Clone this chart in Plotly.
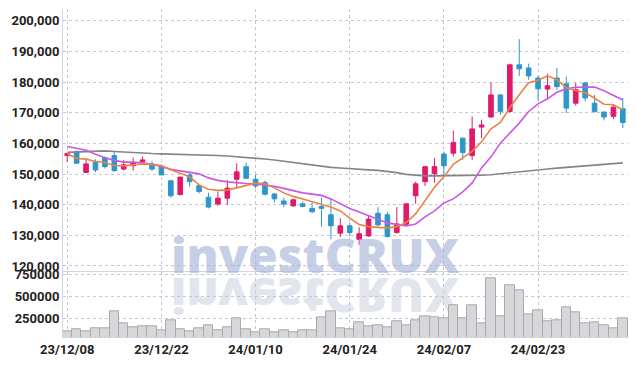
import base64
import plotly.graph_objects as go

dates = ["23/12/08","23/12/11","23/12/12","23/12/13","23/12/14","23/12/15","23/12/18","23/12/19","23/12/20","23/12/21",
         "23/12/22","23/12/26","23/12/27","23/12/28","24/01/02","24/01/03","24/01/04","24/01/05","24/01/08","24/01/09",
         "24/01/10","24/01/11","24/01/12","24/01/15","24/01/16","24/01/17","24/01/18","24/01/19","24/01/22","24/01/23",
         "24/01/24","24/01/25","24/01/26","24/01/29","24/01/30","24/01/31","24/02/01","24/02/02","24/02/05","24/02/06",
         "24/02/07","24/02/08","24/02/13","24/02/14","24/02/15","24/02/16","24/02/19","24/02/20","24/02/21","24/02/22",
         "24/02/23","24/02/26","24/02/27","24/02/28","24/02/29","24/03/04","24/03/05","24/03/06","24/03/07","24/03/08"]

open_ = [156000,157300,150500,154100,155300,156000,151600,152700,154000,153300,
         152300,147800,143300,149700,146200,142400,140200,142100,148300,152400,
         148300,147200,143500,141200,139600,140300,138800,139400,136700,130700,
         133100,128700,129800,137200,136700,130900,133600,142900,147500,150100,
         156500,156800,161700,156000,165300,168600,175800,170400,185600,184600,
         181300,177700,181300,179400,173100,179700,173100,170200,168800,171300]
high = [156800,157700,154900,154800,155700,157200,154600,155300,155700,154200,
        153000,148100,149000,150300,146500,143900,144300,148100,153500,153700,
        149700,147900,143700,142300,141900,141000,140700,142300,142100,135600,
        134000,132600,136300,139200,137700,139200,140300,147500,152700,155200,
        157300,164200,162000,168800,167700,179900,176000,186000,194000,186000,
        182000,182700,184600,181800,179700,180000,175800,170400,172600,174800]
low = [153900,153500,150500,150600,151800,150800,151100,151100,153300,151000,
       149700,142300,143000,145900,143700,138800,139600,139900,145700,148500,
       145400,143000,140700,139200,139300,139200,137200,132800,128700,129400,
       129800,126900,129500,132800,129300,130600,133300,140300,146100,147200,
       149200,155700,154600,154600,161700,168400,169300,170000,182000,180700,
       174000,174400,177500,169900,172300,173700,170000,167500,167900,165000]
close = [156700,153500,153300,151300,152400,151100,153000,153700,154600,151600,
         149700,142900,149000,147500,144300,139200,142100,145400,150700,148600,
         146100,143400,141900,140200,141600,139400,137700,138800,133100,133100,
         130900,130500,135300,133400,129600,133700,140300,146800,152400,152400,
         152700,160300,157000,164700,166000,175800,170400,185600,184300,182000,
         177800,178800,178500,171500,177500,174800,170400,168600,171800,166800]

ma_short = [156670,155040,154850,154060,153730,152760,152660,152980,153310,153080,
            152760,151350,150280,149070,146450,145050,144660,144820,145480,146290,
            147010,146780,145480,143840,142700,141880,141000,140090,139270,137960,
            135580,133560,132840,132580,132420,132840,134210,136990,141230,145640,
            149070,153150,155270,157390,160490,164740,166800,171600,175840,179760,
            180570,182040,180740,178120,177240,176590,174700,172740,172570,170940]
ma_mid = [158960,158370,157720,156410,155270,154450,153870,153870,153640,153150,
          152490,151510,151030,150540,150050,148740,147920,147430,147110,146880,
          146720,146450,145970,145310,144660,143840,143450,143030,141880,140250,
          138780,137640,136500,135350,134050,133560,133070,133720,136000,137970,
          140580,141880,144170,147110,152000,155600,160070,163330,166600,170390,
          172900,174530,176660,177800,178290,178350,178350,177150,175510,174110]
ma_long = [157070,157230,157390,157550,157550,157330,157130,156900,156800,156670,
           156580,156510,156480,156410,156350,156180,156020,155860,155660,155430,
           155200,154880,154550,154130,153640,153210,152820,152490,152170,151940,
           151680,151510,151350,151190,150930,150440,149880,149560,149390,149390,
           149390,149390,149460,149490,149620,149780,150050,150310,150600,150930,
           151290,151610,151910,152170,152400,152590,152820,153080,153380,153640]

volume = [98750,125840,98750,137130,137130,324490,193570,148420,159700,159700,
          114560,227430,125840,103270,137130,170990,114560,148420,250000,125840,
          91980,125840,91980,114560,91980,114560,114560,261290,326750,137130,
          125840,204850,163090,174380,148420,219530,174380,230810,275960,262420,
          250000,400120,250000,400120,196950,701480,275960,625860,569420,298530,
          343680,216140,230810,375290,317720,193570,204850,174380,137130,250000]

price_ticks = [120000,130000,140000,150000,160000,170000,180000,190000,200000]
volume_ticks = [250000,500000,750000]
date_ticks = [dates[i] for i in range(0, 60, 10)]

RED = "#E2196B"
BLUE = "#2E97C9"
GRID = "#C3C8D8"
FRAME = "#D3D6E0"
TICKFONT = dict(family="Roboto", size=13, color="#222222", weight="bold")

# page body adds an 8px offset; figure is sized so the plot lands at the reference position
OFF = 8
W, H = 636 - OFF, 366 - OFF
ML, MR, MT, MB = 63 - OFF, 8, 9 - OFF, 29
PW, PH = W - ML - MR, H - MT - MB  # 565 x 328

def px_x(x):
    return (x - 63) / PW

def px_y(y):
    return (337 - y) / PH

fig = go.Figure()
fig.add_trace(go.Candlestick(
    x=dates, open=open_, high=high, low=low, close=close,
    increasing=dict(line=dict(color=RED, width=1), fillcolor=RED),
    decreasing=dict(line=dict(color=BLUE, width=1), fillcolor=BLUE),
    whiskerwidth=0, xaxis="x", yaxis="y", showlegend=False, hoverinfo="skip"))
fig.add_trace(go.Scatter(x=dates, y=ma_long, mode="lines",
                         line=dict(color="#858585", width=1.6), xaxis="x", yaxis="y", showlegend=False))
fig.add_trace(go.Scatter(x=dates, y=ma_mid, mode="lines",
                         line=dict(color="#CB57EA", width=1.6), xaxis="x", yaxis="y", showlegend=False))
fig.add_trace(go.Scatter(x=dates, y=ma_short, mode="lines",
                         line=dict(color="#EE8144", width=1.6), xaxis="x", yaxis="y", showlegend=False))
fig.add_trace(go.Bar(x=dates, y=volume, marker=dict(color="#D7D7DA", line=dict(color="#A9A9AE", width=1)),
                     xaxis="x", yaxis="y2", showlegend=False))

# reflected watermark (vertical mirror of the logo text)
svg = ('<svg xmlns="http://www.w3.org/2000/svg" width="320" height="60" viewBox="0 0 320 60">'
       '<g transform="scale(1,-1)"><text x="160" y="0" text-anchor="middle" '
       'font-family="Open Sans" font-weight="800" font-size="48" fill="#E3E5EE">investCRUX</text></g></svg>')
src = "data:image/svg+xml;base64," + base64.b64encode(svg.encode()).decode()

fig.add_layout_image(dict(source=src, xref="paper", yref="paper",
                          x=px_x(155), y=px_y(278), sizex=320 / PW, sizey=60 / PH,
                          xanchor="left", yanchor="top", sizing="stretch", layer="below"))

fig.add_annotation(text="investCRUX", xref="paper", yref="paper",
                   x=px_x(315), y=px_y(278), xanchor="center", yanchor="bottom",
                   showarrow=False, yshift=-11,
                   font=dict(family="Open Sans", size=48, color="rgba(160,175,212,0.6)", weight=800))

fig.update_layout(
    width=W, height=H,
    margin=dict(l=ML, r=MR, t=MT, b=MB, autoexpand=False),
    paper_bgcolor="white", plot_bgcolor="rgba(0,0,0,0)",
    bargap=0, boxgap=0.3, showlegend=False,
    xaxis=dict(type="category", range=[-0.45, 59.55], anchor="y2",
               tickmode="array", tickvals=date_ticks, ticktext=date_ticks,
               showgrid=True, gridcolor=GRID, griddash="dot", gridwidth=1,
               showline=True, linecolor=FRAME, mirror=True, ticks="", automargin=False,
               tickfont=TICKFONT, rangeslider=dict(visible=False)),
    yaxis=dict(domain=[px_y(272.3), 1], range=[117940, 203820],
               tickmode="array", tickvals=price_ticks, tickformat=",d",
               showgrid=True, gridcolor=GRID, griddash="dot", gridwidth=1,
               showline=True, linecolor=FRAME, mirror=True, ticks="", automargin=False,
               zeroline=False, tickfont=TICKFONT),
    yaxis2=dict(domain=[0, px_y(272.3)], range=[39000, 769200],
                tickmode="array", tickvals=volume_ticks, tickformat="d",
                showgrid=True, gridcolor=GRID, griddash="dot", gridwidth=1,
                showline=True, linecolor=FRAME, mirror=True, ticks="", automargin=False,
                zeroline=False, tickfont=TICKFONT),
)

fig.write_html("out.html")
